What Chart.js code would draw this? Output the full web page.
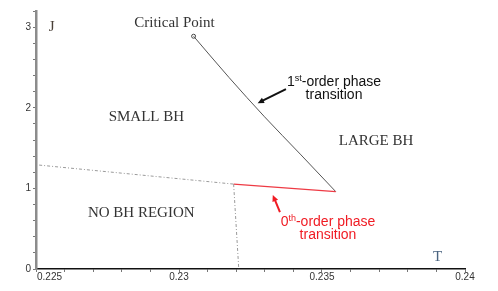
<!DOCTYPE html>
<html>
<head>
<meta charset="utf-8">
<script src="https://cdn.jsdelivr.net/npm/chart.js@4/dist/chart.umd.min.js"></script>
<style>
  body { margin: 0; background: #fff; }
  #wrap { width: 498px; height: 291px; }
</style>
</head>
<body>
<div id="wrap"><canvas id="chart" width="498" height="291"></canvas></div>
<script>
// phase boundaries (T, J)
const tFirstOrder = [0.23051, 0.23175, 0.23299, 0.23424, 0.23548];
const jFirstOrder = [2.887, 2.375, 1.888, 1.425, 0.96];

const tZeroOrder = [0.23191, 0.23548];
const jZeroOrder = [1.053, 0.96];

const tNoBhTop = [0.22511, 0.23191];
const jNoBhTop = [1.289, 1.053];

const tNoBhSide = [0.23191, 0.23209];
const jNoBhSide = [1.053, 0];

const tCritical = [0.23051];
const jCritical = [2.887];

const xTickLabels = ["0.225", "0.23", "0.235", "0.24"];
const yTickLabels = ["0", "1", "2", "3"];

const pts = (xs, ys) => xs.map((x, i) => ({ x: x, y: ys[i] }));

// text labels placed in data space
const notes = [
  { text: "Critical Point", t: 0.22984, j: 3.048, font: "15px 'Liberation Serif'", color: "#333" },
  { text: "J", t: 0.22555, j: 3.0, font: "15px 'Liberation Serif'", color: "#4a4038" },
  { text: "SMALL BH", t: 0.22886, j: 1.884, font: "15px 'Liberation Serif'", color: "#333" },
  { text: "LARGE BH", t: 0.23689, j: 1.586, font: "15px 'Liberation Serif'", color: "#333" },
  { text: "NO BH REGION", t: 0.22868, j: 0.694, font: "15px 'Liberation Serif'", color: "#333" },
  { text: "T", t: 0.23904, j: 0.149, font: "15px 'Liberation Serif'", color: "#4a6480" }
];

const supNotes = [
  { base: "1", sup: "st", rest: "-order phase", line2: "transition", t: 0.23542, j: 2.243, color: "#111" },
  { base: "0", sup: "th", rest: "-order phase", line2: "transition", t: 0.23521, j: 0.508, color: "#f01c24" }
];

const arrows = [
  { from: [0.23374, 2.23], to: [0.23275, 2.057], color: "#111" },
  { from: [0.23353, 0.706], to: [0.23328, 0.917], color: "#f01c24" }
];

function drawArrow(ctx, x1, y1, x2, y2, color) {
  const ang = Math.atan2(y2 - y1, x2 - x1);
  const head = 7;
  ctx.strokeStyle = color;
  ctx.fillStyle = color;
  ctx.lineWidth = 2;
  ctx.beginPath();
  ctx.moveTo(x1, y1);
  ctx.lineTo(x2 - Math.cos(ang) * head * 0.8, y2 - Math.sin(ang) * head * 0.8);
  ctx.stroke();
  ctx.beginPath();
  ctx.moveTo(x2, y2);
  ctx.lineTo(x2 - head * Math.cos(ang - 0.45), y2 - head * Math.sin(ang - 0.45));
  ctx.lineTo(x2 - head * Math.cos(ang + 0.45), y2 - head * Math.sin(ang + 0.45));
  ctx.closePath();
  ctx.fill();
}

const notesPlugin = {
  id: "notes",
  afterDraw(chart) {
    const ctx = chart.ctx;
    const xs = chart.scales.x;
    const ys = chart.scales.y;
    ctx.save();
    ctx.textBaseline = "middle";
    ctx.textAlign = "center";
    notes.forEach(n => {
      ctx.font = n.font;
      ctx.fillStyle = n.color;
      ctx.fillText(n.text, xs.getPixelForValue(n.t), ys.getPixelForValue(n.j));
    });

    supNotes.forEach(n => {
      const cx = xs.getPixelForValue(n.t);
      const cy = ys.getPixelForValue(n.j);
      const big = "14px 'Liberation Sans'";
      const small = "9px 'Liberation Sans'";
      ctx.font = big;
      const wb = ctx.measureText(n.base).width;
      const wr = ctx.measureText(n.rest).width;
      ctx.font = small;
      const ws = ctx.measureText(n.sup).width;
      let x = cx - (wb + ws + wr) / 2;
      ctx.fillStyle = n.color;
      ctx.textAlign = "left";
      ctx.font = big;
      ctx.fillText(n.base, x, cy - 6);
      x += wb;
      ctx.font = small;
      ctx.fillText(n.sup, x, cy - 10);
      x += ws;
      ctx.font = big;
      ctx.fillText(n.rest, x, cy - 6);
      ctx.textAlign = "center";
      ctx.fillText(n.line2, cx, cy + 7);
    });

    arrows.forEach(a => {
      drawArrow(ctx,
        xs.getPixelForValue(a.from[0]), ys.getPixelForValue(a.from[1]),
        xs.getPixelForValue(a.to[0]), ys.getPixelForValue(a.to[1]), a.color);
    });

    // x tick labels, first one pushed right of the axis
    ctx.font = "10px 'Liberation Sans'";
    ctx.fillStyle = "#333";
    ctx.textBaseline = "top";
    xTickLabels.forEach((lab, i) => {
      const px = xs.getPixelForValue(parseFloat(lab));
      ctx.textAlign = i === 0 ? "left" : "center";
      ctx.fillText(lab, i === 0 ? px + 1 : px, xs.top + 3);
    });
    ctx.restore();
  }
};

const isMultiple = (v, step) => Math.abs(v / step - Math.round(v / step)) < 1e-6;

new Chart(document.getElementById("chart"), {
  type: "scatter",
  data: {
    datasets: [
      {
        data: pts(tNoBhTop, jNoBhTop),
        showLine: true, borderColor: "#9a9a9a", borderWidth: 1,
        borderDash: [3, 2, 1, 2], pointRadius: 0
      },
      {
        data: pts(tNoBhSide, jNoBhSide),
        showLine: true, borderColor: "#9a9a9a", borderWidth: 1,
        borderDash: [3, 2, 1, 2], pointRadius: 0
      },
      {
        data: pts(tZeroOrder, jZeroOrder),
        showLine: true, borderColor: "#ee3a44", borderWidth: 1.2, pointRadius: 0
      },
      {
        data: pts(tFirstOrder, jFirstOrder),
        showLine: true, borderColor: "#555", borderWidth: 1, pointRadius: 0,
        cubicInterpolationMode: "monotone"
      },
      {
        data: pts(tCritical, jCritical),
        showLine: false, pointRadius: 2, borderColor: "#444", borderWidth: 1,
        backgroundColor: "#fff"
      }
    ]
  },
  options: {
    responsive: false,
    animation: false,
    layout: { padding: { top: 11, right: 33, left: 0, bottom: 0 } },
    plugins: { legend: { display: false }, tooltip: { enabled: false } },
    scales: {
      x: {
        type: "linear",
        min: 0.225, max: 0.24,
        afterFit: s => { s.height = 22; },
        border: { color: "#111", width: 1.5 },
        grid: { drawOnChartArea: false, tickLength: 3, color: "#777" },
        ticks: {
          stepSize: 0.001,
          autoSkip: false,
          callback: () => "",
          font: { size: 10 }
        }
      },
      y: {
        type: "linear",
        min: 0, max: 3.2,
        afterFit: s => { s.width = 36; },
        border: { color: "#8c8c8c", width: 2.5 },
        grid: { drawOnChartArea: false, tickLength: 3, color: "#777" },
        ticks: {
          stepSize: 0.2,
          autoSkip: false,
          padding: 2,
          color: "#333",
          font: { family: "'Liberation Sans'", size: 10 },
          callback: v => {
            if (!isMultiple(v, 1)) return "";
            const lab = String(Math.round(v));
            return yTickLabels.includes(lab) ? lab : "";
          }
        }
      }
    }
  },
  plugins: [notesPlugin]
});
</script>
</body>
</html>
